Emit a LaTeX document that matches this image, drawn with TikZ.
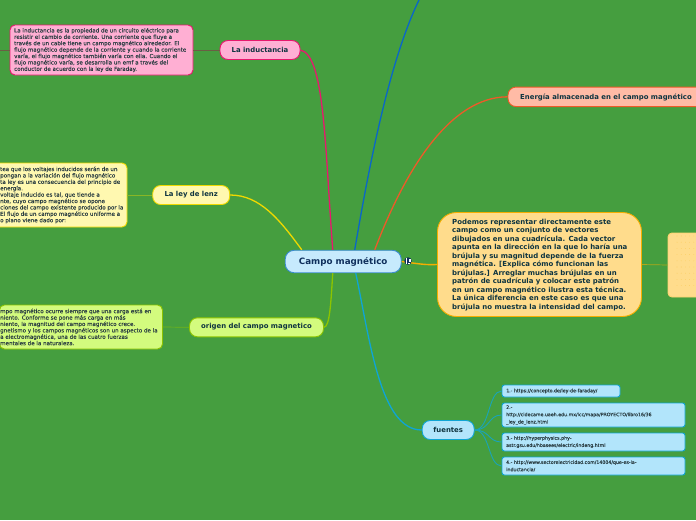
\documentclass[tikz,border=0pt]{standalone}
\usepackage{fontspec}
\setmainfont{DejaVu Sans}
\newfontfamily\leaffont[FakeBold=0.05]{DejaVu Sans}
\definecolor{bg}{HTML}{459E3F}
\definecolor{ink}{HTML}{0E3440}
\definecolor{soft}{HTML}{2A3D42}
\definecolor{navy}{HTML}{0F2F5C}
\definecolor{pinkf}{HTML}{FFAFD3}\definecolor{pinkd}{HTML}{E8186E}
\definecolor{yelf}{HTML}{FFF8B0}\definecolor{yeld}{HTML}{EFD900}
\definecolor{grnf}{HTML}{D3FB7E}\definecolor{grnd}{HTML}{8CC400}
\definecolor{orgf}{HTML}{FFDC8C}\definecolor{orgd}{HTML}{F5AE00}
\definecolor{salf}{HTML}{FFBBA6}\definecolor{sald}{HTML}{EE5A28}
\definecolor{skyf}{HTML}{B2E5FB}\definecolor{skyd}{HTML}{0FA5D5}
\definecolor{rootf}{HTML}{C6EAFD}\definecolor{rootd}{HTML}{3A8CD0}
\definecolor{blued}{HTML}{0A66C8}
\tikzset{
  x=1pt,y=-1pt,
  box/.style={draw=#1,line width=0.9pt,inner sep=0pt,text=ink,anchor=center},
  lab/.style={text=ink,inner sep=0pt},
  leaf/.style={lab,text=soft,font=\leaffont\fontsize{5.55}{6.4}\selectfont,align=left,anchor=west},
  src/.style={lab,text=soft,font=\leaffont\fontsize{4.72}{7.3}\selectfont,align=left,anchor=west},
  big/.style={lab,font=\fontsize{6.9}{8}\bfseries\selectfont,align=center},
  link/.style={line width=#1},
  link/.default=0.8pt
}
\newcommand{\rbox}[7]{\node[box=#6,fill=#7,minimum width=#3pt,minimum height=#4pt,rounded corners=#5pt] (#1) at (#2) {};}
\begin{document}
\begin{tikzpicture}
\useasboundingbox (0,0) rectangle (696,520);
\fill[bg] (0,0) rectangle (696,520);
% nodes
\rbox{root}{343.2,261.5}{116}{22.5}{9}{rootd}{rootf}
\node[lab,text=navy,font=\fontsize{8.75}{10}\bfseries\selectfont] (rootlabel) at (343.2,262) {Campo magnético};
\rbox{ind}{260,50}{80}{19}{8}{pinkd}{pinkf}
\node[big] (indlabel) at (260,50) {La inductancia};
\rbox{lenz}{191.2,195}{77}{19}{8}{yeld}{yelf}
\node[big] (lenzlabel) at (191.2,195) {La ley de lenz};
\rbox{orig}{256.5,327.3}{134}{19}{8}{grnd}{grnf}
\node[big] (origlabel) at (256.5,327) {origen del campo magnetico};
\rbox{ener}{612,96.8}{208}{19.5}{8}{sald}{salf}
\node[big,anchor=west] (enerlabel) at (520,97) {Energía almacenada en el campo magnético};
\rbox{fuen}{448.2,430}{52}{19}{8}{skyd}{skyf}
\node[big] (fuenlabel) at (448.2,430) {fuentes};
\rbox{desc}{539.5,264.5}{204}{104}{19}{orgd}{orgf}
\node[lab,anchor=west,align=left,font=\fontsize{6.95}{8.5}\bfseries\selectfont] (desclabel) at (452,264.8) {Podemos representar directamente este\\campo como un conjunto de vectores\\dibujados en una cuadrícula. Cada vector\\apunta en la dirección en la que lo haría una\\brújula y su magnitud depende de la fuerza\\magnética. [Explica cómo funcionan las\\brújulas.] Arreglar muchas brújulas en un\\patrón de cuadrícula y colocar este patrón\\en un campo magnético ilustra esta técnica.\\La única diferencia en este caso es que una\\brújula no muestra la intensidad del campo.};
\rbox{img}{700,265}{64}{64}{4}{orgf!80!orgd}{orgf}
\foreach \i in {0,...,4} {\foreach \j in {0,...,8} {\fill[orgd!55!orgf] (677+4.2*\i,236+6.2*\j) circle (0.3);}}
\rbox{t1}{101.5,50}{183}{50}{5}{pinkd}{pinkf}
\node[leaf] (t1label) at (14,50) {La inductancia es la propiedad de un circuito eléctrico para\\resistir el cambio de corriente. Una corriente que fluye a\\través de un cable tiene un campo magnético alrededor. El\\flujo magnético depende de la corriente y cuando la corriente\\varía, el flujo magnético también varía con ella. Cuando el\\flujo magnético varía, se desarrolla un emf a través del\\conductor de acuerdo con la ley de Faraday.};
\rbox{t2}{57,195}{140}{64}{5}{yeld}{yelf}
\node[leaf] (t2label) at (0,195) {tea que los voltajes inducidos serán de un\\pongan a la variación del flujo magnético\\ta ley es una consecuencia del principio de\\energía.\\voltaje inducido es tal, que tiende a\\nte, cuyo campo magnético se opone\\ciones del campo existente producido por la\\El flujo de un campo magnético uniforme a\\o plano viene dado por:};
\rbox{t3}{81,327}{163}{44}{5}{grnd}{grnf}
\node[leaf] (t3label) at (0,327) {mpo magnético ocurre siempre que una carga está en\\niento. Conforme se pone más carga en más\\niento, la magnitud del campo magnético crece.\\gnetismo y los campos magnéticos son un aspecto de la\\a electromagnética, una de las cuatro fuerzas\\mentales de la naturaleza.};
\rbox{s1}{561,391}{118}{12}{2.5}{skyd}{skyf}
\node[src] (s1label) at (506,391) {1.- https://concepto.de/ley-de-faraday/};
\rbox{s2}{593.5,415}{183}{24}{2.5}{skyd}{skyf}
\node[src] (s2label) at (506,415) {2.-\\http://cidecame.uaeh.edu.mx/lcc/mapa/PROYECTO/libro16/36\\\_ley\_de\_lenz.html};
\rbox{s3}{593.5,442}{183}{18}{2.5}{skyd}{skyf}
\node[src] (s3label) at (506,442) {3.- http://hyperphysics.phy-\\astr.gsu.edu/hbasees/electric/indeng.html};
\rbox{s4}{593.5,466}{183}{18}{2.5}{skyd}{skyf}
\node[src] (s4label) at (506,466) {4.- http://www.sectorelectricidad.com/14004/que-es-la-\\inductancia/};
% connectors
\coordinate (topend) at (419,0);
\coordinate (leftedge) at (0,50);
\draw[link=0.7pt,draw=pinkd!35!bg!85!black] (leftedge) -- (t1.west);
\draw[link=0.7pt,draw=pinkd!35!bg!85!black] (t1.east) -- (ind.west);
\draw[link=0.7pt,draw=yeld!40!bg] (t2.east) -- (lenz.west);
\draw[link=0.7pt,draw=grnd!60!bg] (t3.east) -- (orig.west);
\draw[link=0.7pt,draw=orgd!60!bg] (desc.east) -- (img.west);
\draw[link=1.3pt,draw=pinkd] (root.north west) ++(48,0) .. controls (325,150) and (325,55) .. (ind.east);
\draw[link=1.3pt,draw=yeld] (root.north west) ++(17,0) .. controls (280,220) and (260,195) .. (lenz.east);
\draw[link=1.3pt,draw=grnd] (root.south west) ++(48,0) .. controls (331,300) and (330,327) .. (orig.east);
\draw[link=1.3pt,draw=blued] (root.north west) ++(70,0) .. controls (370,160) and (390,60) .. (topend);
\draw[link=1.3pt,draw=sald] (root.north west) ++(90,0) .. controls (405,170) and (450,97) .. (ener.west);
\draw[link=1.4pt,draw=orgd] (root.east) .. controls (420,264) and (425,265) .. (desc.west);
\draw[link=1.3pt,draw=skyd] (root.south west) ++(71,0) .. controls (370,340) and (380,430) .. (fuen.west);
\draw[link=0.9pt,draw=skyd!80!bg] (fuen.east) .. controls (490,430) and (488,391) .. (s1.west);
\draw[link=0.9pt,draw=skyd!80!bg] (fuen.east) .. controls (490,430) and (488,415) .. (s2.west);
\draw[link=0.9pt,draw=skyd!80!bg] (fuen.east) .. controls (490,430) and (488,442) .. (s3.west);
\draw[link=0.9pt,draw=skyd!80!bg] (fuen.east) .. controls (490,430) and (488,466) .. (s4.west);
% globe
\node[circle,fill=navy,minimum size=7.5pt,inner sep=0pt] (globe) at (408,261) {};
\fill[white] (406.2,258.3) rectangle (407.2,263.8);
\fill[white] (408.6,259) rectangle (410.6,261.5);
\fill[white] (408.2,263) rectangle (409.6,264);
\end{tikzpicture}
\end{document}
